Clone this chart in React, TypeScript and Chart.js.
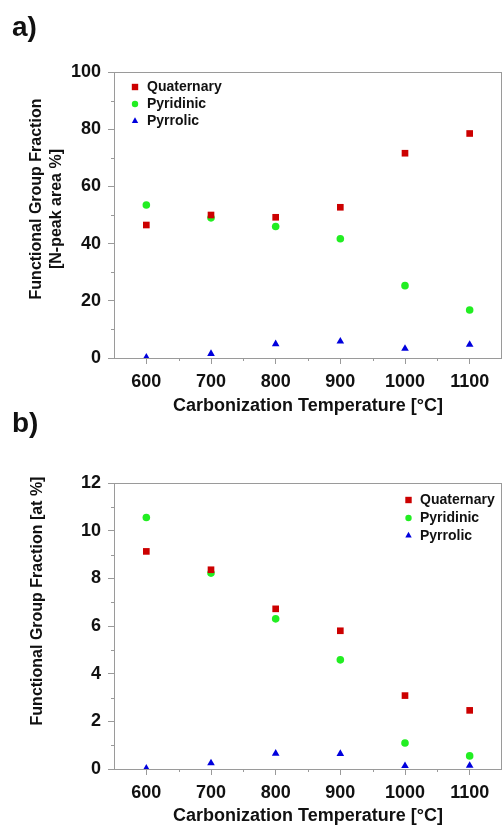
import React, { useEffect, useRef } from 'react';
import { Chart, registerables } from 'chart.js';

Chart.register(...registerables);

// ---------- data ----------
const temperatures = [600, 700, 800, 900, 1000, 1100];
const seriesNames = ['Quaternary', 'Pyridinic', 'Pyrrolic'];

const quaternaryA = [46.5, 50.0, 49.2, 52.7, 71.6, 78.5];
const pyridinicA = [53.5, 49.0, 46.0, 41.7, 25.3, 16.8];
const pyrrolicA = [0.2, 1.5, 4.9, 5.8, 3.3, 4.7];

const quaternaryB = [9.13, 8.36, 6.72, 5.8, 3.08, 2.46];
const pyridinicB = [10.55, 8.22, 6.3, 4.58, 1.09, 0.55];
const pyrrolicB = [0.02, 0.25, 0.65, 0.64, 0.13, 0.14];

const xTicks = [600, 700, 800, 900, 1000, 1100];
const xMinorTicks = [650, 750, 850, 950, 1050];
const yTicksA = [0, 20, 40, 60, 80, 100];
const yMinorTicksA = [10, 30, 50, 70, 90];
const yTicksB = [0, 2, 4, 6, 8, 10, 12];
const yMinorTicksB = [1, 3, 5, 7, 9, 11];

const xTitle = 'Carbonization Temperature [°C]';
const yTitleA = ['Functional Group Fraction', '[N-peak area %]'];
const yTitleB = ['Functional Group Fraction [at %]'];

// ---------- styles ----------
const FONT = "'Liberation Sans', Arial, sans-serif";
const AXIS_COLOR = '#9a9a9a';
const TEXT_COLOR = '#111111';
const COLORS = ['#cc0000', '#22ee22', '#0000dd'];
const STYLES = ['rect', 'circle', 'triangle'];
const RADII = [4.7, 3.8, 4.4];

type Cfg = {
  height: number;
  padTop: number;
  xHeight: number;
  yMax: number;
  yTicks: number[];
  yMinor: number[];
  series: number[][];
  yTitle: string[];
  yTitlePos: { x: number; y: number }[];
  legend: { markerX: number; textX: number; rows: number[] };
};

function drawMarker(ctx: CanvasRenderingContext2D, style: string, x: number, y: number, s: number) {
  ctx.beginPath();
  if (style === 'rect') {
    ctx.rect(x - s, y - s, 2 * s, 2 * s);
  } else if (style === 'circle') {
    ctx.arc(x, y, s, 0, Math.PI * 2);
  } else {
    ctx.moveTo(x, y - s * 1.15);
    ctx.lineTo(x + s * 1.0, y + s * 0.6);
    ctx.lineTo(x - s * 1.0, y + s * 0.6);
    ctx.closePath();
  }
  ctx.fill();
}

function makeDecor(cfg: Cfg) {
  return {
    id: 'decor',
    afterDraw(chart: any) {
      const { ctx, chartArea: ca, scales } = chart;
      const xs = scales.x;
      const ys = scales.y;
      ctx.save();
      ctx.strokeStyle = AXIS_COLOR;
      ctx.lineWidth = 1;
      ctx.beginPath();
      ctx.moveTo(ca.left, Math.round(ca.top) + 0.5);
      ctx.lineTo(ca.right, Math.round(ca.top) + 0.5);
      ctx.moveTo(Math.round(ca.right) - 0.5, ca.top);
      ctx.lineTo(Math.round(ca.right) - 0.5, ca.bottom);
      xMinorTicks.forEach((v) => {
        const px = Math.round(xs.getPixelForValue(v)) + 0.5;
        ctx.moveTo(px, ca.bottom);
        ctx.lineTo(px, ca.bottom + 3);
      });
      cfg.yMinor.forEach((v) => {
        const py = Math.round(ys.getPixelForValue(v)) + 0.5;
        ctx.moveTo(ca.left, py);
        ctx.lineTo(ca.left - 3, py);
      });
      ctx.stroke();

      ctx.fillStyle = TEXT_COLOR;
      ctx.font = `bold 16px ${FONT}`;
      ctx.textAlign = 'center';
      ctx.textBaseline = 'middle';
      cfg.yTitle.forEach((t, i) => {
        const p = cfg.yTitlePos[i];
        ctx.save();
        ctx.translate(p.x, p.y);
        ctx.rotate(-Math.PI / 2);
        ctx.fillText(t, 0, 0);
        ctx.restore();
      });

      ctx.font = `bold 14px ${FONT}`;
      ctx.textAlign = 'left';
      ctx.textBaseline = 'middle';
      seriesNames.forEach((name, i) => {
        const y = cfg.legend.rows[i];
        ctx.fillStyle = COLORS[i];
        drawMarker(ctx, STYLES[i], cfg.legend.markerX, y, 3.2);
        ctx.fillStyle = TEXT_COLOR;
        ctx.fillText(name, cfg.legend.textX, y + 0.5);
      });
      ctx.restore();
    },
  };
}

function ScatterPanel({ cfg, top }: { cfg: Cfg; top: number }) {
  const ref = useRef<HTMLCanvasElement | null>(null);
  useEffect(() => {
    if (!ref.current) return;
    const chart = new Chart(ref.current, {
      type: 'scatter',
      data: {
        datasets: cfg.series.map((vals, i) => ({
          label: seriesNames[i],
          data: temperatures.map((t, j) => ({ x: t, y: vals[j] })),
          pointStyle: STYLES[i] as any,
          pointRadius: RADII[i],
          pointHoverRadius: RADII[i],
          backgroundColor: COLORS[i],
          borderColor: COLORS[i],
          pointBorderWidth: 0,
          clip: 0,
        })),
      },
      options: {
        animation: false,
        responsive: false,
        devicePixelRatio: 1,
        layout: { autoPadding: false, padding: { top: cfg.padTop, left: 0, right: 0, bottom: 0 } },
        plugins: { legend: { display: false }, tooltip: { enabled: false } },
        scales: {
          x: {
            type: 'linear',
            min: 550,
            max: 1150,
            afterBuildTicks: (s: any) => {
              s.ticks = xTicks.map((v) => ({ value: v }));
            },
            afterFit: (s: any) => {
              s.height = cfg.xHeight;
              s.paddingLeft = 0;
              s.paddingRight = 0;
            },
            ticks: {
              color: TEXT_COLOR,
              font: { family: FONT, size: 18, weight: 'bold' },
              padding: 7,
              maxRotation: 0,
              autoSkip: false,
              callback: (v: any) => String(v),
            },
            grid: { drawOnChartArea: false, drawTicks: true, tickLength: 6, color: AXIS_COLOR },
            border: { display: true, color: AXIS_COLOR, width: 1 },
            title: {
              display: true,
              text: xTitle,
              color: TEXT_COLOR,
              font: { family: FONT, size: 18, weight: 'bold' },
              padding: { top: 0, bottom: 1 },
            },
          },
          y: {
            type: 'linear',
            min: 0,
            max: cfg.yMax,
            afterBuildTicks: (s: any) => {
              s.ticks = cfg.yTicks.map((v) => ({ value: v }));
            },
            afterFit: (s: any) => {
              s.width = 114;
              s.paddingTop = 0;
              s.paddingBottom = 0;
            },
            ticks: {
              color: TEXT_COLOR,
              font: { family: FONT, size: 18, weight: 'bold' },
              padding: 7,
              autoSkip: false,
              callback: (v: any) => String(v),
            },
            grid: { drawOnChartArea: false, drawTicks: true, tickLength: 6, color: AXIS_COLOR },
            border: { display: true, color: AXIS_COLOR, width: 1 },
          },
        },
      },
      plugins: [makeDecor(cfg)],
    } as any);
    return () => chart.destroy();
  }, [cfg]);
  return (
    <canvas
      ref={ref}
      width={502}
      height={cfg.height}
      style={{ position: 'absolute', left: 0, top, width: 502, height: cfg.height, display: 'block' }}
    />
  );
}

const cfgA: Cfg = {
  height: 418,
  padTop: 72,
  xHeight: 60,
  yMax: 100,
  yTicks: yTicksA,
  yMinor: yMinorTicksA,
  series: [quaternaryA, pyridinicA, pyrrolicA],
  yTitle: yTitleA,
  yTitlePos: [
    { x: 36.5, y: 199 },
    { x: 57, y: 209 },
  ],
  legend: { markerX: 135, textX: 147, rows: [87, 104, 121] },
};

const cfgB: Cfg = {
  height: 410,
  padTop: 65,
  xHeight: 59,
  yMax: 12,
  yTicks: yTicksB,
  yMinor: yMinorTicksB,
  series: [quaternaryB, pyridinicB, pyrrolicB],
  yTitle: yTitleB,
  yTitlePos: [{ x: 37.5, y: 183 }],
  legend: { markerX: 408.5, textX: 420, rows: [82, 100, 117.5] },
};

const labelStyle: React.CSSProperties = {
  position: 'absolute',
  left: 12,
  fontFamily: FONT,
  fontWeight: 'bold',
  fontSize: 28,
  lineHeight: '28px',
  color: TEXT_COLOR,
  zIndex: 2,
  margin: 0,
};

export default function App() {
  return (
    <div>
      <ScatterPanel cfg={cfgA} top={0} />
      <ScatterPanel cfg={cfgB} top={418} />
      <div style={{ ...labelStyle, top: 13 }}>a)</div>
      <div style={{ ...labelStyle, top: 409 }}>b)</div>
    </div>
  );
}
